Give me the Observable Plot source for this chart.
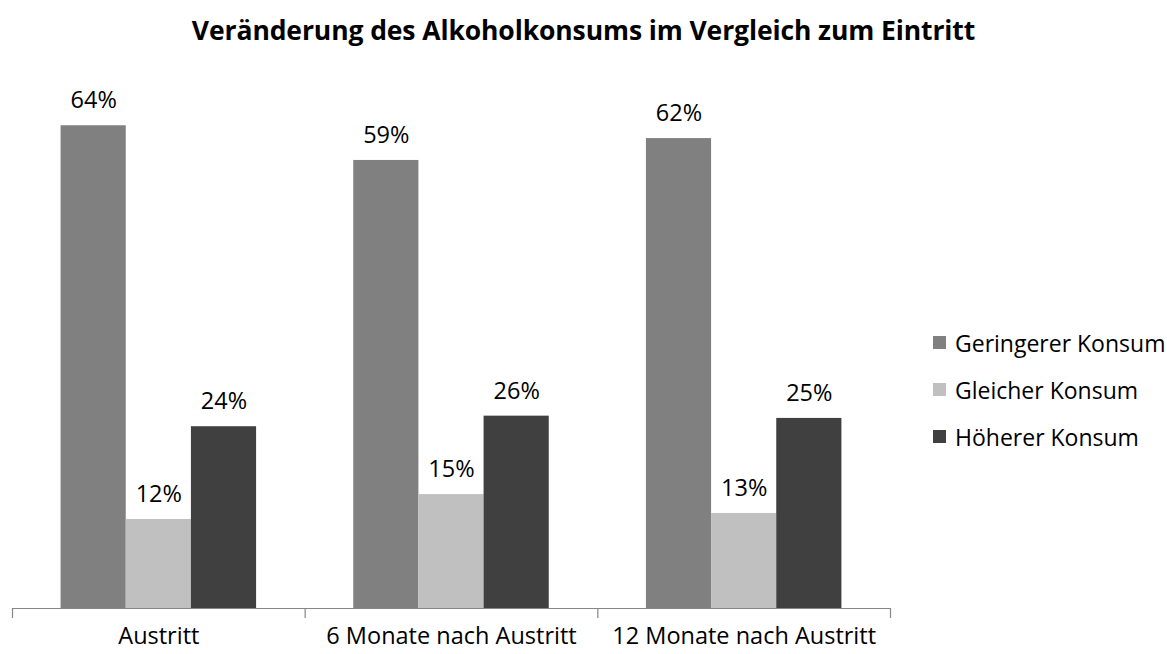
<!DOCTYPE html>
<html>
<head>
<meta charset="utf-8">
<script src="https://cdn.jsdelivr.net/npm/d3@7"></script>
<script src="https://cdn.jsdelivr.net/npm/@observablehq/plot@0.6"></script>
<style>
  html, body { margin: 0; padding: 0; background: #fff; }
  #wrap { position: relative; width: 1167px; height: 654px; font-family: "Open Sans", sans-serif; color: #000; }
  #title { height: 60px; line-height: 60px; text-align: center; font-weight: bold; font-size: 26.5px; letter-spacing: -0.1px; }
  #legend { position: absolute; left: 933px; top: 319px; font-size: 23px; }
  .row { display: flex; align-items: center; height: 47px; }
  .sw { width: 13px; height: 13px; margin-right: 9px; }
</style>
</head>
<body>
<div id="wrap">
  <div id="title">Veränderung des Alkoholkonsums im Vergleich zum Eintritt</div>
  <div id="chart"></div>
  <div id="legend"></div>
</div>
<script>
const groups = ["Austritt", "6 Monate nach Austritt", "12 Monate nach Austritt"];
const series = ["Geringerer Konsum", "Gleicher Konsum", "Höherer Konsum"];
// bar heights (labels show them rounded)
const geringer = [64.0, 59.4, 62.3];
const gleich = [11.8, 15.1, 12.6];
const hoeher = [24.1, 25.5, 25.2];
const colors = ["#808080", "#c0c0c0", "#404040"];

const seriesValues = [geringer, gleich, hoeher];
const rows = groups.flatMap((g, gi) =>
  seriesValues.map((arr, si) => ({group: g, gi, series: series[si], si, value: arr[gi]}))
);

const pad = 0.166;
const barW = (1 - 2 * pad) / 3;

const chart = Plot.plot({
  width: 1167,
  height: 594,
  marginLeft: 12,
  marginRight: 277,
  marginTop: 20,
  marginBottom: 46,
  style: {fontFamily: "Open Sans, sans-serif", fontSize: "23px", color: "#000", background: "#fff"},
  x: {domain: [0, groups.length], axis: null},
  y: {domain: [0, 70], axis: null},
  color: {domain: series, range: colors},
  marks: [
    Plot.rectY(rows, {
      x1: d => d.gi + pad + d.si * barW,
      x2: d => d.gi + pad + (d.si + 1) * barW,
      y: "value",
      fill: "series"
    }),
    Plot.text(rows, {
      x: d => d.gi + pad + (d.si + 0.5) * barW,
      y: "value",
      text: d => Math.round(d.value) + "%",
      dy: -25,
      fontSize: 23.5,
      fill: "#000"
    }),
    Plot.ruleY([0], {stroke: "#868686", strokeWidth: 1.2}),
    Plot.axisX(d3.range(groups.length + 1), {
      tickSize: 10, tickFormat: () => "", stroke: "#868686", strokeWidth: 1.2
    }),
    Plot.axisX(groups.map((g, i) => i + 0.5), {
      tickSize: 0, tickPadding: 19, fontSize: 23.5, fill: "#000",
      tickFormat: v => groups[Math.floor(v)]
    })
  ]
});
document.getElementById("chart").appendChild(chart);

const legend = document.getElementById("legend");
series.forEach((s, i) => {
  const row = document.createElement("div");
  row.className = "row";
  const sw = document.createElement("span");
  sw.className = "sw";
  sw.style.background = colors[i];
  const t = document.createElement("span");
  t.textContent = s;
  row.appendChild(sw);
  row.appendChild(t);
  legend.appendChild(row);
});
</script>
</body>
</html>
